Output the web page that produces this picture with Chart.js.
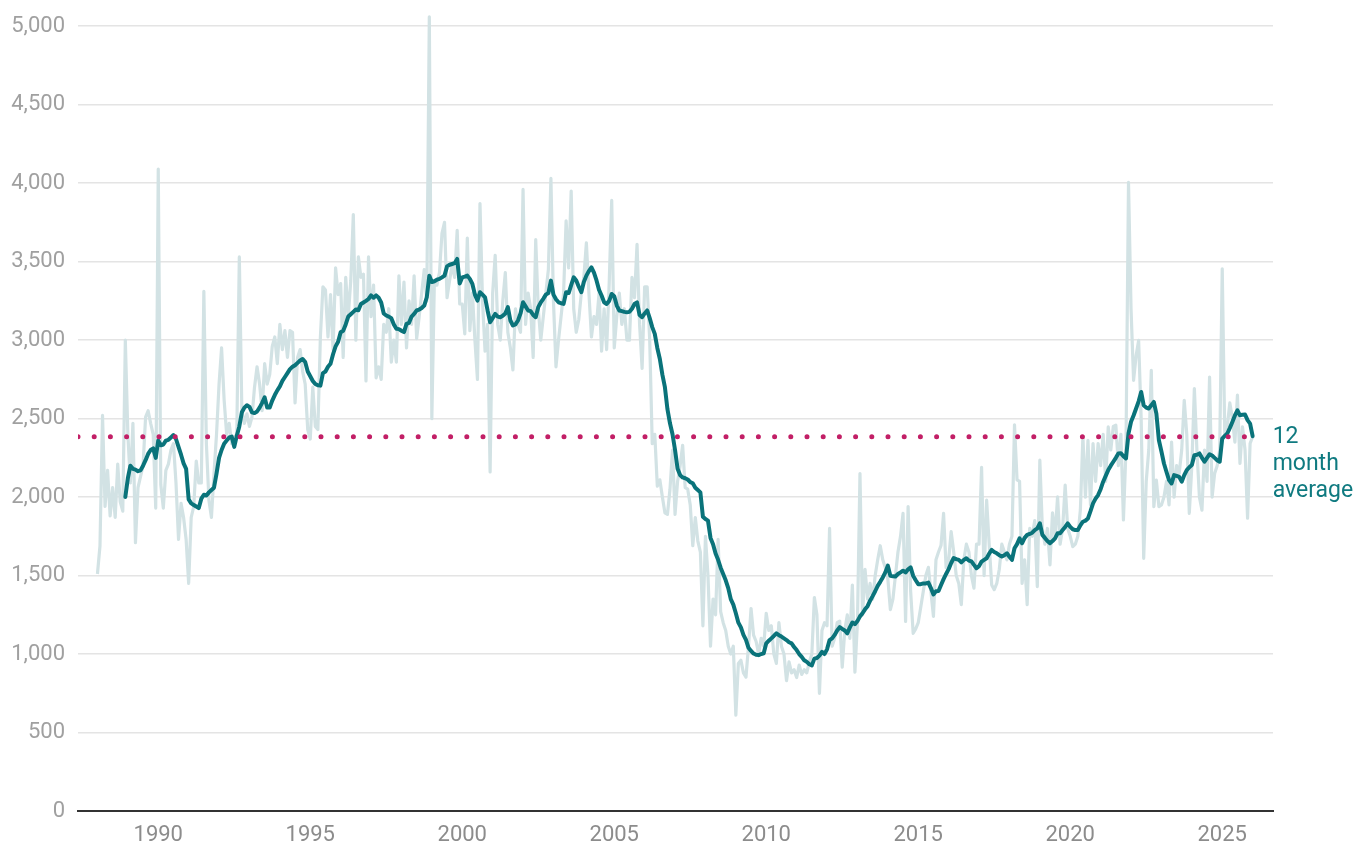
<!DOCTYPE html>
<html>
<head>
<meta charset="utf-8">
<script src="https://cdn.jsdelivr.net/npm/chart.js@4.4.1/dist/chart.umd.min.js"></script>
<style>
html,body{margin:0;padding:0;background:#ffffff;}
#wrap{width:1369px;height:846px;position:relative;}
</style>
</head>
<body>
<div id="wrap"><canvas id="c" width="1369" height="846"></canvas></div>
<script>
// ---- data ----
const START_YEAR = 1988;          // first month: January 1988
const AVG_START_INDEX = 11;       // 12-month average starts December 1988

const monthlyValues = [
  1510,1690,2520,1940,2170,1880,2060,1870,2210,1970,1910,3000, // 1988
  2400,2090,2470,1710,2060,2130,2200,2510,2550,2470,2400,1930, // 1989
  4090,2080,1930,2170,2210,2300,2340,2090,1730,1960,1870,1730, // 1990
  1450,1870,1940,2230,2090,2090,3310,2340,1980,1870,2150,2400, // 1991
  2720,2950,2620,2400,2470,2340,2380,2400,3530,2550,2470,2530, // 1992
  2450,2510,2700,2830,2720,2550,2850,2720,2780,2960,3020,2850, // 1993
  3100,2940,3060,2890,3060,3050,2600,2890,2940,2800,2720,2430, // 1994
  2370,2700,2450,2430,3020,3340,3320,3020,3290,2940,3460,3290, // 1995
  3360,2890,3400,3150,3380,3800,3000,3530,3400,3420,2740,3530, // 1996
  3150,3350,2760,2830,2750,3100,3050,3200,2860,3000,2860,3410, // 1997
  3100,3370,2950,3250,3100,3410,3010,3150,3300,3450,3250,5060, // 1998
  2500,3380,3350,3430,3680,3750,3270,3380,3480,3400,3700,3230, // 1999
  3230,3040,3650,3060,3300,3000,2750,3870,3250,2930,3100,2160, // 2000
  3300,3540,3100,3000,3250,3430,3050,2950,2810,3200,3100,3050, // 2001
  3960,3100,3300,3200,2890,3640,3200,3000,3150,3300,3450,4030, // 2002
  3250,2830,3000,3150,3300,3760,3460,3950,3200,3050,3130,3300, // 2003
  3400,3620,3300,3020,3150,3100,3300,2930,3200,2940,3360,3890, // 2004
  2950,3150,3300,3100,3200,3000,3000,3400,3270,3610,3100,2820, // 2005
  3340,3340,3000,2340,2400,2070,2110,2000,1900,1890,2050,2300, // 2006
  1890,2100,2200,2330,2060,2050,1950,1690,1870,1720,1650,1180, // 2007
  1750,1500,1050,1350,1250,1730,1270,1200,1150,1050,1000,1050, // 2008
  610,940,960,880,853,1050,1290,1120,1080,1000,1100,1050,      // 2009
  1260,1150,1180,1000,940,1200,1050,1000,830,950,880,900,      // 2010
  850,930,870,900,880,950,1000,1360,1250,750,1150,1200,        // 2011
  1180,1800,1050,1100,1200,1210,917,1150,1250,1100,1440,885,   // 2012
  1200,2150,1250,1540,1350,1450,1350,1500,1600,1690,1600,1550, // 2013
  1480,1283,1350,1500,1650,1750,1896,1208,1939,1400,1132,1160, // 2014
  1200,1300,1400,1500,1552,1400,1240,1600,1650,1692,1896,1550, // 2015
  1600,1780,1650,1500,1450,1315,1600,1700,1650,1500,1420,1700, // 2016
  1700,2190,1500,1980,1700,1440,1410,1450,1540,1700,1650,1600, // 2017
  1700,1750,2460,2110,2100,1450,1600,1314,1800,1750,1850,1430, // 2018
  2235,1800,1700,1800,1568,1900,1750,2002,1700,1800,2076,1800, // 2019
  1750,1684,1700,1750,1918,2384,2000,2362,1950,2341,2100,2341, // 2020
  2200,2400,2100,2447,2300,2450,2458,2200,2400,1854,2300,4005, // 2021
  3200,2744,2900,2998,2500,1610,2100,2300,2807,1939,2108,1939, // 2022
  1950,2000,2100,1950,2350,2000,2200,2150,2300,2617,2400,1896, // 2023
  2200,2691,2300,2000,1917,2300,2100,2765,2000,2150,2200,2300, // 2024
  3454,2400,2450,2600,2500,2350,2649,2214,2447,2300,1865,2341, // 2025
  2384                                                         // 2026
];

const twelveMonthAverage = [
  2000,                                                        // Dec 1988
  2120,2200,2180,2175,2165,2170,2200,2235,2275,2300,2310,2250, // 1989
  2360,2330,2335,2360,2365,2380,2395,2370,2320,2270,2215,2180, // 1990
  1985,1960,1950,1940,1930,1990,2015,2010,2030,2045,2060,2150, // 1991
  2250,2300,2340,2360,2380,2385,2320,2390,2450,2540,2570,2585, // 1992
  2575,2540,2535,2545,2570,2600,2635,2570,2570,2615,2650,2680, // 1993
  2705,2740,2765,2790,2815,2830,2840,2855,2870,2880,2860,2800, // 1994
  2770,2740,2720,2712,2710,2790,2800,2830,2850,2910,2960,2990, // 1995
  3050,3060,3100,3150,3165,3180,3195,3190,3230,3240,3250,3262, // 1996
  3285,3270,3285,3270,3240,3170,3157,3150,3140,3100,3072,3070, // 1997
  3060,3051,3104,3110,3150,3167,3189,3195,3205,3220,3273,3410, // 1998
  3370,3375,3385,3390,3400,3411,3470,3480,3485,3490,3517,3360, // 1999
  3400,3405,3411,3390,3358,3290,3252,3305,3290,3273,3189,3114, // 2000
  3140,3167,3150,3146,3155,3170,3210,3125,3093,3100,3125,3170, // 2001
  3241,3215,3189,3185,3160,3146,3210,3240,3263,3290,3300,3379, // 2002
  3290,3260,3241,3235,3231,3305,3300,3350,3400,3380,3340,3305, // 2003
  3370,3411,3440,3464,3430,3380,3320,3284,3241,3230,3250,3294, // 2004
  3280,3220,3189,3185,3180,3178,3180,3200,3230,3241,3160,3146, // 2005
  3170,3189,3140,3083,3040,2950,2880,2780,2700,2560,2470,2400, // 2006
  2300,2180,2140,2125,2120,2112,2095,2088,2060,2045,2030,1875, // 2007
  1860,1850,1740,1700,1640,1600,1550,1510,1470,1420,1350,1315, // 2008
  1260,1200,1170,1122,1090,1040,1020,1003,995,993,1000,1005,   // 2009
  1068,1085,1100,1115,1132,1120,1111,1100,1089,1075,1068,1045, // 2010
  1025,1000,982,960,950,935,928,971,975,990,1014,1000,         // 2011
  1030,1089,1100,1122,1150,1171,1160,1150,1132,1170,1201,1190, // 2012
  1210,1240,1260,1285,1305,1340,1369,1400,1434,1460,1488,1520, // 2013
  1563,1498,1495,1494,1510,1520,1531,1520,1540,1552,1498,1470, // 2014
  1445,1445,1450,1450,1455,1420,1380,1400,1402,1440,1477,1510, // 2015
  1541,1580,1612,1605,1600,1584,1600,1610,1595,1590,1568,1547, // 2016
  1560,1589,1600,1610,1640,1663,1650,1642,1630,1621,1630,1642, // 2017
  1620,1600,1674,1700,1737,1706,1740,1759,1765,1773,1790,1801, // 2018
  1833,1759,1740,1720,1706,1720,1737,1769,1770,1790,1810,1833, // 2019
  1810,1795,1790,1790,1820,1843,1850,1864,1910,1960,1990,2013, // 2020
  2050,2098,2135,2172,2200,2225,2250,2278,2280,2260,2246,2405, // 2021
  2480,2520,2564,2610,2670,2585,2570,2564,2585,2606,2532,2362, // 2022
  2290,2214,2160,2108,2087,2140,2135,2129,2098,2140,2172,2190, // 2023
  2204,2267,2270,2278,2250,2225,2250,2273,2265,2250,2235,2225, // 2024
  2373,2390,2405,2440,2479,2520,2553,2521,2525,2526,2490,2468, // 2025
  2388                                                         // 2026
];

const longRunAverage = 2385;
const yTickValues = [0,500,1000,1500,2000,2500,3000,3500,4000,4500,5000];
const yearTickValues = [1990,1995,2000,2005,2010,2015,2020,2025];
const seriesLabelLines = ['12','month','average'];

// ---- build points (month index -> decimal year) ----
const monthToX = i => START_YEAR + i / 12;
const monthlyPoints = monthlyValues.map((v, i) => ({x: monthToX(i), y: v}));
const averagePoints = twelveMonthAverage.map((v, i) => ({x: monthToX(i + AVG_START_INDEX), y: v}));
const X_MIN = 1987.36, X_MAX = 2026.67;
const lastX = monthToX(monthlyValues.length - 1);
const referencePoints = [{x: X_MIN, y: longRunAverage}, {x: lastX, y: longRunAverage}];

const FONT = 'Roboto';
const TEAL = '#0a737a';

const labelPlugin = {
  id: 'seriesLabel',
  afterDatasetsDraw(chart) {
    const {ctx, scales: {x, y}} = chart;
    const px = x.getPixelForValue(lastX) + 20;
    const py = y.getPixelForValue(longRunAverage) + 1;
    ctx.save();
    ctx.font = '23px ' + FONT;
    ctx.fillStyle = '#0f7a80';
    ctx.textAlign = 'left';
    ctx.textBaseline = 'middle';
    seriesLabelLines.forEach((t, k) => ctx.fillText(t, px, py + k * 27));
    ctx.restore();
  }
};

new Chart(document.getElementById('c'), {
  type: 'line',
  data: {
    datasets: [
      {
        label: 'Long-run average',
        data: referencePoints,
        borderColor: '#c21f66',
        borderWidth: 5,
        borderDash: [0, 16.2],
        borderCapStyle: 'round',
        pointRadius: 0,
        fill: false
      },
      {
        label: '12 month average',
        data: averagePoints,
        borderColor: TEAL,
        borderWidth: 4,
        borderJoinStyle: 'round',
        borderCapStyle: 'round',
        pointRadius: 0,
        tension: 0,
        fill: false
      },
      {
        label: 'Monthly',
        data: monthlyPoints,
        borderColor: '#d2e2e4',
        borderWidth: 3.2,
        borderJoinStyle: 'round',
        pointRadius: 0,
        tension: 0,
        fill: false,
        clip: false
      }
    ]
  },
  options: {
    responsive: false,
    devicePixelRatio: 1,
    animation: false,
    events: [],
    layout: {padding: {top: 25, right: 96, bottom: 0, left: 0}},
    plugins: {legend: {display: false}, tooltip: {enabled: false}},
    scales: {
      x: {
        type: 'linear',
        min: X_MIN,
        max: X_MAX,
        afterBuildTicks: s => { s.ticks = yearTickValues.map(v => ({value: v})); },
        afterFit: s => { s.height = 35; },
        grid: {display: false, drawTicks: false},
        border: {display: true, color: '#333333', width: 2},
        ticks: {
          padding: 11,
          color: '#8c8c8c',
          font: {family: FONT, size: 22},
          maxRotation: 0,
          autoSkip: false,
          callback: v => String(v)
        }
      },
      y: {
        min: 0,
        max: 5000,
        afterBuildTicks: s => { s.ticks = yTickValues.map(v => ({value: v})); },
        afterFit: s => { s.width = 78; },
        grid: {color: '#e4e4e4', lineWidth: 1.5, drawTicks: false},
        border: {display: false},
        ticks: {
          padding: 13,
          color: '#a0a0a0',
          font: {family: FONT, size: 22},
          callback: v => v.toLocaleString('en-US')
        }
      }
    }
  },
  plugins: [labelPlugin]
});
</script>
</body>
</html>
